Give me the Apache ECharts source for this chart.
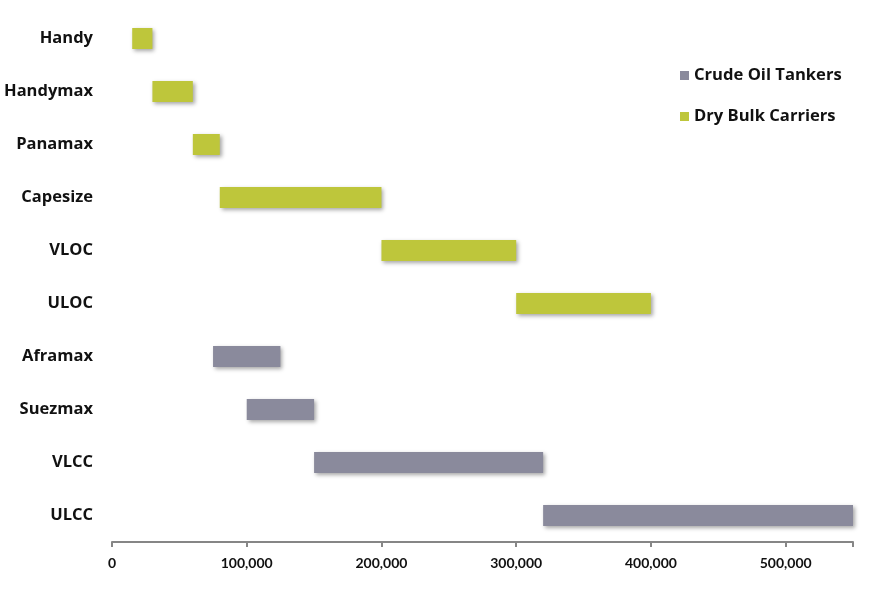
<!DOCTYPE html>
<html><head><meta charset="utf-8">
<script src="https://cdn.jsdelivr.net/npm/echarts@6/dist/echarts.min.js"></script>
<style>html,body{margin:0;padding:0;background:#fff}#c{width:890px;height:600px}</style>
</head><body><div id="c"></div>
<script>
const categories = ['Handy','Handymax','Panamax','Capesize','VLOC','ULOC','Aframax','Suezmax','VLCC','ULCC'];
const groups = ['dry','dry','dry','dry','dry','dry','crude','crude','crude','crude'];
const rangeStart = [15000, 30000, 60000, 80000, 200000, 300000, 75000, 100000, 150000, 320000];
const rangeEnd   = [30000, 60000, 80000, 200000, 300000, 400000, 125000, 150000, 320000, 550000];
const tickValues = [0, 100000, 200000, 300000, 400000, 500000];

const crudeLen = categories.map((c,i)=> groups[i]==='crude' ? rangeEnd[i]-rangeStart[i] : '-');
const dryLen = categories.map((c,i)=> groups[i]==='dry' ? rangeEnd[i]-rangeStart[i] : '-');
const shadow = {shadowBlur:4, shadowOffsetX:2, shadowOffsetY:2, shadowColor:'rgba(0,0,0,0.35)'};
const font = '"Open Sans", Lato, sans-serif';
const chart = echarts.init(document.getElementById('c'));
chart.setOption({
  animation:false,
  backgroundColor:'#fff',
  grid:{left:112, right:37, top:12, bottom:58},
  legend:{
    data:['Crude Oil Tankers','Dry Bulk Carriers'],
    orient:'vertical', left:675, top:62, itemGap:24,
    icon:'rect', itemWidth:9, itemHeight:9,
    textStyle:{fontFamily:font, fontWeight:'bold', fontSize:16.6, color:'#111'}
  },
  xAxis:{
    type:'value', min:0, max:550000, interval:100000,
    axisLine:{show:true, lineStyle:{color:'#868686', width:2}},
    axisTick:{show:true, length:5, lineStyle:{color:'#868686', width:2}},
    splitLine:{show:false},
    axisLabel:{fontFamily:'Lato, sans-serif', fontWeight:'bold', fontSize:14, color:'#111', margin:14,
      formatter:v=> tickValues.includes(v) ? v.toLocaleString('en-US') : ''}
  },
  yAxis:{
    type:'category', data:categories, inverse:true,
    axisLine:{show:false}, axisTick:{show:false},
    axisLabel:{fontFamily:font, fontWeight:'bold', fontSize:16.5, color:'#111', margin:19}
  },
  series:[
    {name:'base', type:'bar', stack:'s', data:rangeStart, barWidth:21, silent:true,
      itemStyle:{color:'transparent'}},
    {name:'Crude Oil Tankers', type:'bar', stack:'s', data:crudeLen, barWidth:21,
      itemStyle:Object.assign({color:'#8a8a9c'}, shadow)},
    {name:'Dry Bulk Carriers', type:'bar', stack:'s', data:dryLen, barWidth:21,
      itemStyle:Object.assign({color:'#bec63b'}, shadow)}
  ]
});
</script></body></html>
